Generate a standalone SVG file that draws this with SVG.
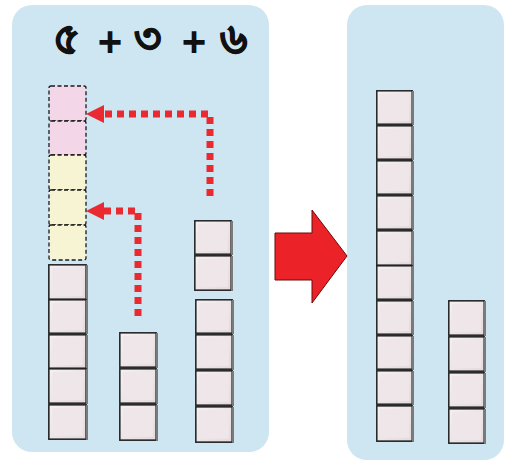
<svg xmlns="http://www.w3.org/2000/svg" xmlns:xlink="http://www.w3.org/1999/xlink" width="508" height="465" viewBox="0 0 508 465">
<style>
.panel{fill:#cde6f2}
.dot{fill:none;stroke:#ea2a30;stroke-width:7;stroke-dasharray:7 5}
.head{fill:#ea2a30}
.dash{stroke:#1a1a1a;stroke-width:1.3;stroke-dasharray:4 2.5}
.pink{fill:#f3d6e7}
.yel{fill:#f6f4d3}
.num{font-family:"Noto Sans","DejaVu Sans",sans-serif;font-size:42px;font-weight:bold;fill:#111;stroke:#111;stroke-width:1.2;text-anchor:middle}
.plus{font-family:"Liberation Sans",sans-serif;font-size:42px;font-weight:bold;fill:#111;text-anchor:middle}
</style>
<defs>
<linearGradient id="g" x1="0" y1="0" x2="1" y2="1">
<stop offset="0" stop-color="#f6f0f2"/>
<stop offset="1" stop-color="#e4dadd"/>
</linearGradient>
<symbol id="cube" viewBox="0 0 38 35" preserveAspectRatio="none">
<rect x="0.8" y="0.8" width="35.4" height="33.4" fill="url(#g)" stroke="#222" stroke-width="1.5"/>
<rect x="4" y="4" width="29" height="27" fill="#eee6e9"/>
<line x1="37" y1="1" x2="37" y2="35" stroke="#7a7a7a" stroke-width="2"/>
</symbol>
</defs>
<rect width="508" height="465" fill="#fff"/>
<g id="left-panel">
<rect class="panel" x="12" y="5" width="257" height="447" rx="20"/>
</g>
<g id="right-panel">
<rect class="panel" x="347" y="5" width="157" height="455" rx="20"/>
</g>
<g id="equation">
<text class="num" x="66" y="53">৫</text>
<text class="plus" x="110" y="56">+</text>
<text class="num" x="147" y="53">৩</text>
<text class="plus" x="194" y="56">+</text>
<text class="num" x="233" y="53">৬</text>
</g>
<g id="moved-blocks">
<rect class="pink dash" x="49" y="86" width="37" height="35" rx="2"/>
<rect class="pink dash" x="49" y="121" width="37" height="34" rx="2"/>
<rect class="yel dash" x="49" y="155" width="37" height="35" rx="2"/>
<rect class="yel dash" x="49" y="190" width="37" height="35" rx="2"/>
<rect class="yel dash" x="49" y="225" width="37" height="35" rx="2"/>
</g>
<g id="column-five">
<use xlink:href="#cube" x="48" y="264" width="40" height="36"/>
<use xlink:href="#cube" x="48" y="299" width="40" height="35"/>
<use xlink:href="#cube" x="48" y="334" width="40" height="35"/>
<use xlink:href="#cube" x="48" y="368" width="40" height="36"/>
<use xlink:href="#cube" x="48" y="404" width="40" height="36"/>
</g>
<g id="column-three">
<use xlink:href="#cube" x="119" y="332" width="39" height="36"/>
<use xlink:href="#cube" x="119" y="368" width="39" height="36"/>
<use xlink:href="#cube" x="119" y="404" width="39" height="37"/>
</g>
<g id="column-six">
<use xlink:href="#cube" x="194" y="220" width="39" height="35"/>
<use xlink:href="#cube" x="194" y="255" width="39" height="36"/>
<use xlink:href="#cube" x="195" y="299" width="39" height="35"/>
<use xlink:href="#cube" x="195" y="334" width="39" height="36"/>
<use xlink:href="#cube" x="195" y="370" width="39" height="36"/>
<use xlink:href="#cube" x="195" y="406" width="39" height="37"/>
</g>
<g id="connectors">
<path class="dot" d="M210,196 V114 H104"/>
<polygon class="head" points="86,114 104,105 104,123"/>
<path class="dot" d="M138,316 V211 H104"/>
<polygon class="head" points="86,211 104,202 104,220"/>
</g>
<g id="big-arrow">
<polygon points="275,233 312,233 312,210 347,256 312,303 312,280 275,280" fill="#ec2229" stroke="#6a0a0a" stroke-width="1"/>
</g>
<g id="column-ten">
<use xlink:href="#cube" x="376" y="90" width="38" height="35"/>
<use xlink:href="#cube" x="376" y="125" width="38" height="35"/>
<use xlink:href="#cube" x="376" y="160" width="38" height="35"/>
<use xlink:href="#cube" x="376" y="195" width="38" height="35"/>
<use xlink:href="#cube" x="376" y="230" width="38" height="36"/>
<use xlink:href="#cube" x="376" y="265" width="38" height="35"/>
<use xlink:href="#cube" x="376" y="300" width="38" height="35"/>
<use xlink:href="#cube" x="376" y="335" width="38" height="35"/>
<use xlink:href="#cube" x="376" y="370" width="38" height="35"/>
<use xlink:href="#cube" x="376" y="405" width="38" height="37"/>
</g>
<g id="column-four">
<use xlink:href="#cube" x="448" y="300" width="38" height="36"/>
<use xlink:href="#cube" x="448" y="336" width="38" height="36"/>
<use xlink:href="#cube" x="448" y="372" width="38" height="36"/>
<use xlink:href="#cube" x="448" y="408" width="38" height="36"/>
</g>
</svg>
